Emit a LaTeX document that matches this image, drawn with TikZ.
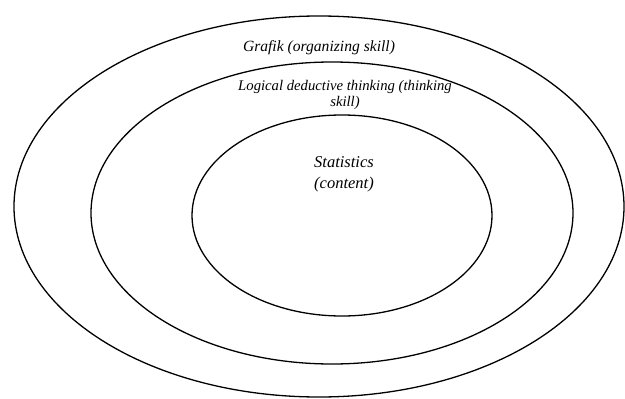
\documentclass[tikz,border=0pt]{standalone}
\usepackage{fontspec}
\setmainfont{Liberation Serif}
\usetikzlibrary{shapes.geometric}
\begin{document}
\begin{tikzpicture}[x=1pt,y=-1pt,
  ring/.style={draw=black,line width=1.3pt,ellipse,inner sep=0pt},
  lbl/.style={align=center,inner sep=0pt}]
\useasboundingbox (0,0) rectangle (625,399);
\node[ring,minimum width=610pt,minimum height=381pt] (outer) at (319,206.5) {};
\node[ring,minimum width=482pt,minimum height=302pt] (middle) at (332,213) {};
\node[ring,minimum width=300pt,minimum height=201pt] (inner) at (342,215.5) {};
\node[lbl,font=\fontsize{15.6}{18}\selectfont\itshape] (grafik) at (319,48) {Grafik (organizing skill)};
\node[lbl,font=\fontsize{14.7}{16}\selectfont\itshape] (logical) at (345,95) {Logical deductive thinking (thinking\\skill)};
\node[lbl,font=\fontsize{16.5}{21}\selectfont\itshape] (stat) at (344,174.5) {Statistics\\(content)};
\end{tikzpicture}
\end{document}
